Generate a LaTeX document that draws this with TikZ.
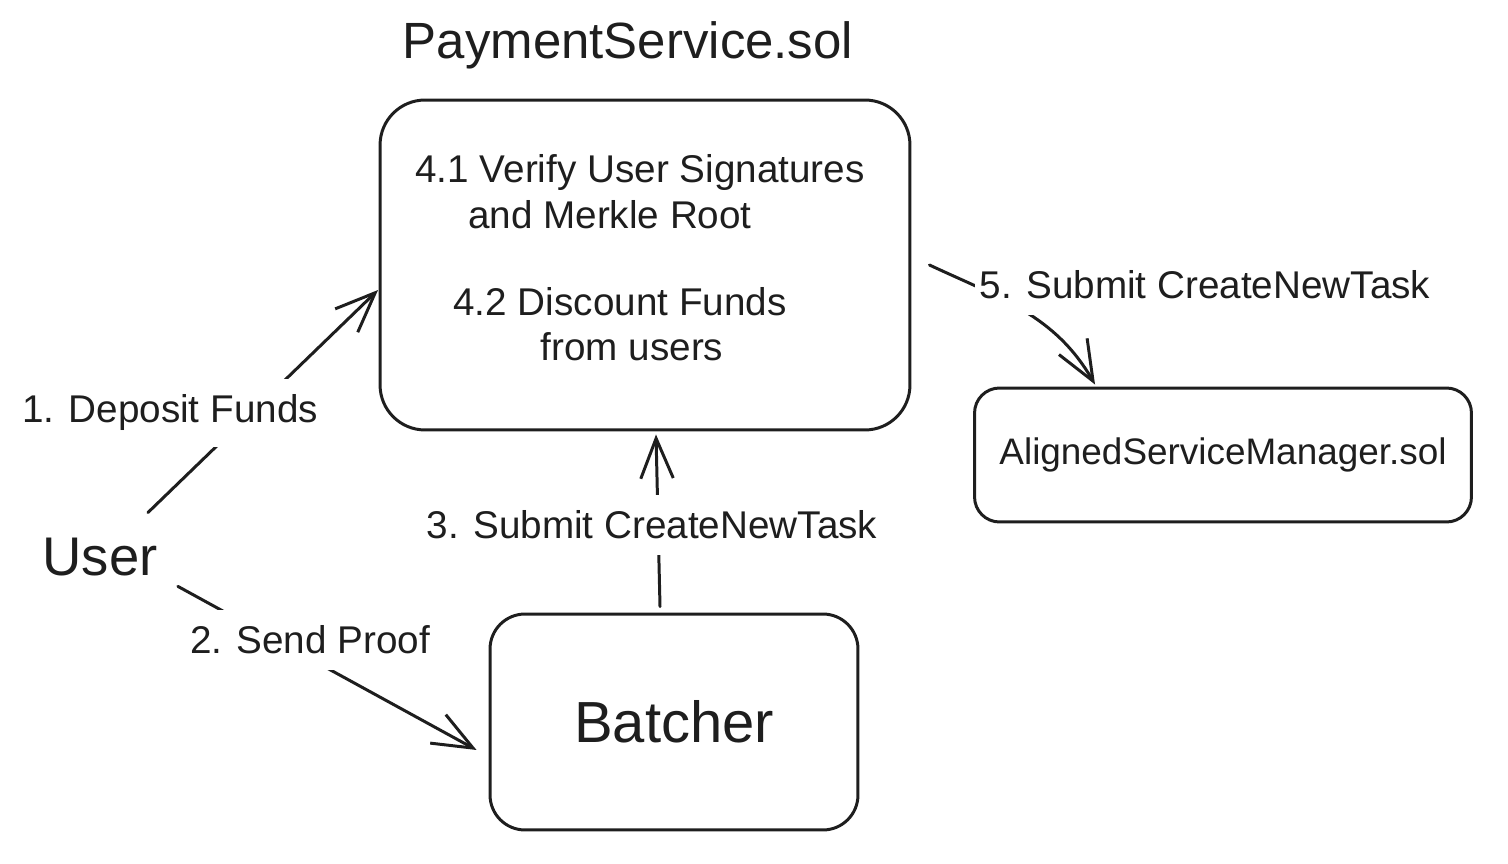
\documentclass[tikz,border=0pt]{standalone}
\usepackage{fontspec}
\setmainfont{Liberation Sans}
\usepackage{tikz}
\usetikzlibrary{arrows.meta, positioning, calc}
\definecolor{encre}{RGB}{30, 30, 30}

\begin{document}
\begin{tikzpicture}[
    x=0.02cm, y=-0.02cm,
    boite/.style={rectangle, draw=encre, line width=1.7pt, rounded corners=#1, inner sep=0pt},
    fleche/.style={-{Straight Barb[length=8mm, width=6.5mm, line width=1.7pt]},
      line width=1.7pt, color=encre, line cap=round},
    etiquette/.style={fill=white, text=encre, font=\fontsize{22}{26}\selectfont,
      inner xsep=3pt, inner ysep=9pt},
    texte/.style={text=encre, font=\fontsize{22}{26}\selectfont, inner sep=0pt}
  ]
    \useasboundingbox (0,0) rectangle (1508,864);

    \node[text=encre, font=\fontsize{29}{34}\selectfont] (titre) at (628,45) {PaymentService.sol};
    \node[boite=0.9cm, minimum width=10.6cm, minimum height=6.6cm] (paiement) at (645,265) {};
    \node[texte] (verif) at (640,173) {4.1 Verify User Signatures};
    \node[texte] (merkle) at (610,215) {and Merkle Root};
    \node[texte] (remise) at (620,302) {4.2 Discount Funds};
    \node[texte] (users) at (632,347) {from users};

    \node[boite=0.5cm, minimum width=9.94cm, minimum height=2.68cm,
      font=\fontsize{21}{25}\selectfont, text=encre] (gestion) at (1223,455) {AlignedServiceManager.sol};
    \node[boite=0.7cm, minimum width=7.36cm, minimum height=4.32cm,
      font=\fontsize{33}{38}\selectfont, text=encre] (batcher) at (674,722) {Batcher};
    \node[text=encre, font=\fontsize{31}{36}\selectfont, inner sep=0pt] (user) at (100,557) {User};

    \draw[fleche] ([xshift=-2mm, yshift=5mm]user.north east) -- ([xshift=-0.1mm, yshift=-5mm]paiement.west);
    \draw[fleche] ([xshift=4mm, yshift=-2mm]user.south east) -- ([xshift=-2.4mm, yshift=-5.6mm]batcher.west);
    \draw[fleche] ([xshift=-2.8mm, yshift=1.2mm]batcher.north) -- ([xshift=2.2mm, yshift=-0.6mm]paiement.south);
    \draw[fleche] ([xshift=3.6mm, yshift=0mm]paiement.east) to[out=-25, in=120] ([xshift=-25.6mm, yshift=0.4mm]gestion.north);

    \node[etiquette] (depot) at (170,413) {1. Deposit Funds};
    \node[etiquette] (envoi) at (310,640) {2. Send Proof};
    \node[etiquette] (soumission) at (652,525) {3. Submit CreateNewTask};
    \node[etiquette] (tache) at (1205,285) {5. Submit CreateNewTask};
  \end{tikzpicture}
\end{document}
